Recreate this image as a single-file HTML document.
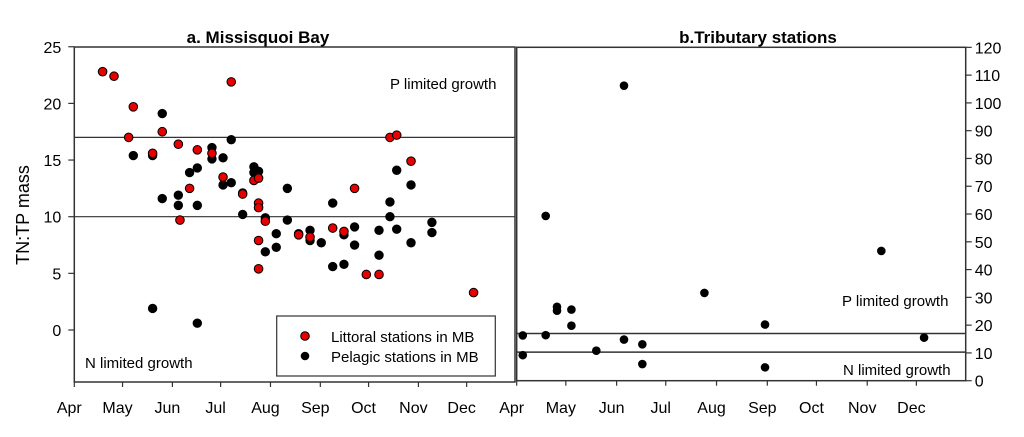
<!DOCTYPE html>
<html><head><meta charset="utf-8"><style>
html,body{margin:0;padding:0;background:#fff;}
svg{display:block;font-family:"Liberation Sans",Arial,sans-serif;}
</style></head><body>
<svg id="chart" width="1024" height="437" viewBox="0 0 1024 437">
<g id="g"></g>
</svg>
<script>
// ---- Panel a: Missisquoi Bay (days since Apr 1, TN:TP) ----
const littoralDays = [17.6,24.7,36.7,33.8,54.7,48.7,64.7,76.5,85.6,71.7,65.7,97.6,92.5,104.7,111.7,114.6,114.6,114.6,114.6,114.6,118.8,139.5,146.6,160.7,167.7,174.3,181.6,189.5,196.3,200.5,209.4,248.3];
const littoralVals = [22.8,22.4,19.7,17.0,17.5,15.6,16.4,15.9,15.6,12.5,9.7,21.9,13.5,12.0,13.2,13.4,11.2,10.8,7.9,5.4,9.6,8.4,8.2,9.0,8.7,12.5,4.9,4.9,17.0,17.2,14.9,3.3];
const pelagicDays = [36.7,48.7,54.7,54.7,48.7,64.7,64.7,71.7,76.5,76.5,76.5,85.6,85.6,92.5,92.5,97.6,97.6,104.7,104.7,111.7,111.7,114.6,118.8,118.8,125.6,125.6,132.5,132.5,139.5,146.6,146.6,153.6,160.7,160.7,167.7,167.7,174.3,174.3,189.5,189.5,196.3,196.3,200.5,200.5,209.4,209.4,222.4,222.4];
const pelagicVals = [15.4,15.4,19.1,11.6,1.9,11.9,11.0,13.9,14.3,11.0,0.6,16.1,15.1,15.2,12.8,16.8,13.0,12.1,10.2,14.4,13.9,14.0,9.9,6.9,8.5,7.3,12.5,9.7,8.5,8.8,7.9,7.7,11.2,5.6,8.4,5.8,9.1,7.5,8.8,6.6,11.3,10.0,14.1,8.9,12.8,7.7,9.5,8.6];
// ---- Panel b: Tributary stations ----
const tribDays = [3.7,3.7,17.7,17.7,24.6,24.6,33.4,33.4,48.6,65.5,65.5,76.7,76.7,114.6,151.6,151.6,222.6,248.7];
const tribVals = [16.3,9.2,59.3,16.4,26.6,25.2,25.6,19.8,10.8,106.2,14.8,13.1,6.0,31.6,20.2,4.8,46.7,15.5];
const monthLabels = ["Apr","May","Jun","Jul","Aug","Sep","Oct","Nov","Dec"];
const monthDays = [0,30,61,91,122,153,183,214,244];
const leftTicks = [0,5,10,15,20,25];
const rightTicks = [0,10,20,30,40,50,60,70,80,90,100,110,120];
const leftLimits = [17,10];
const rightLimits = [17,10.3];

const NS="http://www.w3.org/2000/svg";
const g=document.getElementById('g');
function mk(t,a,txt){const e=document.createElementNS(NS,t);for(const k in a)e.setAttribute(k,a[k]);if(txt!==undefined)e.textContent=txt;g.appendChild(e);return e;}

const ax={x0:74.3,pxd:1.608,y0:330,pyu:11.33,L:74.3,R:515,T:47,B:382};
const bx={x0:516.7,pxd:1.638,y0:380.7,pyu:2.778,L:516.7,R:965.7,T:47.3,B:380.7};
const xa=d=>ax.x0+d*ax.pxd, ya=v=>ax.y0-v*ax.pyu;
const xb=d=>bx.x0+d*bx.pxd, yb=v=>bx.y0-v*bx.pyu;

let e;
e=mk('rect',{x:ax.L,y:ax.T,width:ax.R-ax.L,height:ax.B-ax.T,fill:'none',stroke:'#333','stroke-width':1.5});

e=mk('rect',{x:bx.L,y:bx.T,width:bx.R-bx.L,height:bx.B-bx.T,fill:'none',stroke:'#333','stroke-width':1.5});


leftLimits.forEach(v=>{e=mk('line',{x1:ax.L,x2:ax.R,y1:ya(v),y2:ya(v),stroke:'#333','stroke-width':1.2});
});
rightLimits.forEach(v=>{e=mk('line',{x1:bx.L,x2:bx.R,y1:yb(v),y2:yb(v),stroke:'#333','stroke-width':1.5});
});

leftTicks.forEach(v=>{mk('line',{x1:ax.L-6,x2:ax.L,y1:ya(v),y2:ya(v),stroke:'#333','stroke-width':1.2});
e=mk('text',{x:ax.L-13,y:ya(v)+6,'text-anchor':'end','font-size':16},String(v));
});
rightTicks.forEach(v=>{mk('line',{x1:bx.R,x2:bx.R+6,y1:yb(v),y2:yb(v),stroke:'#333','stroke-width':1.2});
e=mk('text',{x:bx.R+9,y:yb(v)+6,'font-size':16},String(v));
});
monthDays.forEach((d,i)=>{
 mk('line',{x1:xa(d),x2:xa(d),y1:ax.B,y2:ax.B+5,stroke:'#333','stroke-width':1.2});
 e=mk('text',{x:xa(d)-5,y:413,'text-anchor':'middle','font-size':16},monthLabels[i]);
 
 mk('line',{x1:xb(d),x2:xb(d),y1:bx.B,y2:bx.B+5,stroke:'#333','stroke-width':1.2});
 e=mk('text',{x:xb(d)-5,y:413,'text-anchor':'middle','font-size':16},monthLabels[i]);
 
});

pelagicDays.forEach((d,i)=>{e=mk('circle',{cx:xa(d),cy:ya(pelagicVals[i]),r:4.3,fill:'#000',stroke:'#000','stroke-width':0.8});
});
littoralDays.forEach((d,i)=>{e=mk('circle',{cx:xa(d),cy:ya(littoralVals[i]),r:4.3,fill:'#e60000',stroke:'#000','stroke-width':1});
});
tribDays.forEach((d,i)=>{e=mk('circle',{cx:xb(d),cy:yb(tribVals[i]),r:4.3,fill:'#000'});
});

e=mk('text',{x:258,y:43,'text-anchor':'middle','font-size':17,'font-weight':'bold'},'a. Missisquoi Bay');

e=mk('text',{x:758,y:43,'text-anchor':'middle','font-size':17,'font-weight':'bold'},'b.Tributary stations');

e=mk('text',{x:0,y:0,'text-anchor':'middle','font-size':18,transform:'translate(29,215) rotate(-90)'},'TN:TP mass');

e=mk('text',{x:390,y:89,'font-size':15},'P limited growth');

e=mk('text',{x:85,y:368,'font-size':15},'N limited growth');

e=mk('text',{x:842,y:306,'font-size':15},'P limited growth');

e=mk('text',{x:843,y:375,'font-size':15},'N limited growth');


e=mk('rect',{x:276.7,y:316,width:218.6,height:60,fill:'#fff',stroke:'#333','stroke-width':1.2});

e=mk('circle',{cx:305,cy:336,r:4.3,fill:'#e60000',stroke:'#000','stroke-width':1});

e=mk('text',{x:331,y:342,'font-size':15},'Littoral stations in MB');

e=mk('circle',{cx:305,cy:356,r:4.3,fill:'#000'});

e=mk('text',{x:331,y:362,'font-size':15},'Pelagic stations in MB');

</script>
</body></html>
